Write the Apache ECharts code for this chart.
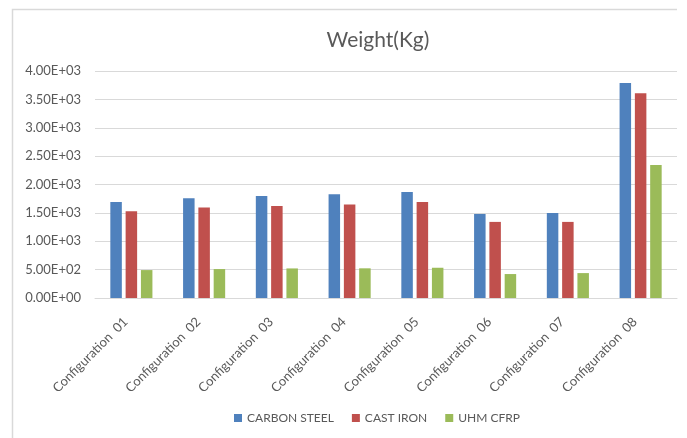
<!DOCTYPE html>
<html>
<head>
<meta charset="utf-8">
<script src="https://cdn.jsdelivr.net/npm/echarts@6/dist/echarts.min.js"></script>
<style>
  html, body { margin: 0; padding: 0; background: #ffffff; }
  #chart { width: 687px; height: 438px; }
</style>
</head>
<body>
<div id="chart"></div>
<script>
// Weight of each configuration by material (kg)
const categories = [
  'Configuration  01', 'Configuration  02', 'Configuration  03', 'Configuration  04',
  'Configuration  05', 'Configuration  06', 'Configuration  07', 'Configuration  08'
];
const carbonSteel = [1690, 1757, 1798, 1828, 1868, 1481, 1499, 3790];
const castIron    = [1529, 1593, 1622, 1646, 1692, 1341, 1341, 3608];
const uhmCfrp     = [492, 510, 521, 523, 533, 422, 439, 2343];
const seriesNames = ['CARBON STEEL', 'CAST IRON', 'UHM CFRP'];
const yTicks = { min: 0, max: 4000, interval: 500 };

const FONT = 'Lato, "Open Sans", sans-serif';
const TEXT = '#595959';
const GRID = '#d9d9d9';

// Scientific notation in the spreadsheet style: 3.50E+03
function sci(v) {
  if (v === 0) return '0.00E+00';
  const e = Math.floor(Math.log10(Math.abs(v)));
  const m = v / Math.pow(10, e);
  const sign = e < 0 ? '-' : '+';
  const ee = String(Math.abs(e)).padStart(2, '0');
  return m.toFixed(2) + 'E' + sign + ee;
}

const chart = echarts.init(document.getElementById('chart'), null, { renderer: 'canvas' });

chart.setOption({
  backgroundColor: '#ffffff',
  animation: false,
  textStyle: { fontFamily: FONT },
  title: {
    text: 'Weight(Kg)',
    left: 373,
    top: 25,
    textAlign: 'center',
    textStyle: { fontFamily: FONT, fontSize: 21, fontWeight: 'normal', color: TEXT }
  },
  legend: {
    data: seriesNames,
    top: 412,
    left: 234,
    padding: 0,
    itemWidth: 8,
    itemHeight: 8,
    itemGap: 18,
    icon: 'rect',
    textStyle: { fontFamily: FONT, fontSize: 12, color: TEXT }
  },
  grid: { left: 95, right: 10, top: 71, bottom: 140, containLabel: false },
  xAxis: {
    type: 'category',
    data: categories,
    axisLine: { lineStyle: { color: GRID, width: 1 } },
    axisTick: { show: false },
    axisLabel: {
      rotate: 45,
      interval: 0,
      margin: 16,
      padding: [0, 8, 0, 0],
      fontFamily: FONT,
      fontSize: 13,
      color: TEXT
    }
  },
  yAxis: {
    type: 'value',
    min: yTicks.min,
    max: yTicks.max,
    interval: yTicks.interval,
    axisLine: { show: false },
    axisTick: { show: false },
    splitLine: { lineStyle: { color: GRID, width: 1 } },
    axisLabel: { formatter: sci, margin: 14, fontFamily: FONT, fontSize: 13, color: TEXT }
  },
  series: [
    { name: seriesNames[0], type: 'bar', data: carbonSteel, barWidth: 11.5, barGap: '33%', itemStyle: { color: '#4F81BD' } },
    { name: seriesNames[1], type: 'bar', data: castIron,    barWidth: 11.5, barGap: '33%', itemStyle: { color: '#C0504D' } },
    { name: seriesNames[2], type: 'bar', data: uhmCfrp,     barWidth: 11.5, barGap: '33%', itemStyle: { color: '#9BBB59' } }
  ],
  graphic: [
    {
      type: 'polyline',
      silent: true,
      shape: { points: [[12.5, 438], [12.5, 9.5], [677, 9.5]] },
      style: { stroke: '#d9d9d9', lineWidth: 1.5, fill: null }
    }
  ]
});
</script>
</body>
</html>
